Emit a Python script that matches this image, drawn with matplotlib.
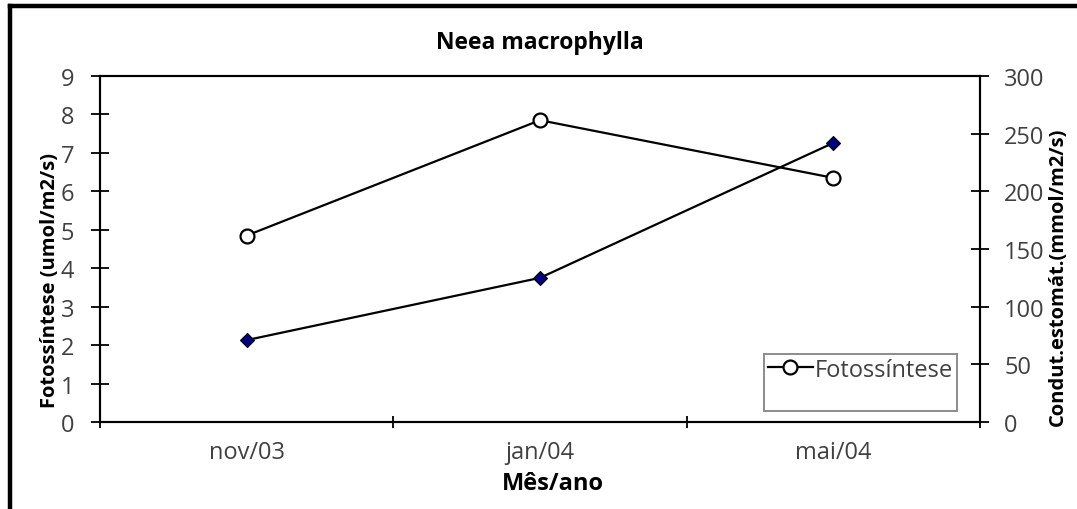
import matplotlib
matplotlib.use("Agg")
import matplotlib.pyplot as plt
from matplotlib.lines import Line2D

# Dados: fotossíntese (eixo esquerdo) e condutância estomática (eixo direito)
meses = ["nov/03", "jan/04", "mai/04"]
fotossintese = [4.85, 7.85, 6.35]        # umol/m2/s
condutancia = [71, 125, 242]             # mmol/m2/s

left_ticks = list(range(0, 10))
right_ticks = list(range(0, 301, 50))

FONT = ["Open Sans", "DejaVu Sans"]
TICK_COLOR = "#404040"
TICK_SIZE = 17
plt.rcParams["font.family"] = FONT

W, H = 1077, 510
fig = plt.figure(figsize=(W / 100, H / 100), dpi=100)
fig.patch.set_facecolor("white")

# moldura grossa do gráfico (esquerda e topo)
fig.add_artist(Line2D([10 / W, 10 / W], [0, 1 - 7 / H], transform=fig.transFigure,
                      color="black", linewidth=3.2, solid_capstyle="projecting"))
fig.add_artist(Line2D([10 / W, 1], [1 - 7 / H, 1 - 7 / H], transform=fig.transFigure,
                      color="black", linewidth=3.2, solid_capstyle="projecting"))

ax = fig.add_axes([100 / W, 1 - 423 / H, 880 / W, 346 / H])
ax2 = ax.twinx()

x = list(range(len(meses)))

ax2.plot(x, condutancia, color="black", linewidth=1.6, marker="D",
         markersize=7.5, markerfacecolor="#000080", markeredgecolor="black",
         markeredgewidth=0.8, zorder=3)
ln_foto, = ax.plot(x, fotossintese, color="black", linewidth=1.6, marker="o",
                   markersize=10, markerfacecolor="white", markeredgecolor="black",
                   markeredgewidth=1.6, zorder=4, label="Fotossíntese")
ax.set_zorder(ax2.get_zorder() + 1)
ax.patch.set_visible(False)

ax.set_xlim(-0.5, len(meses) - 0.5)
ax.set_ylim(0, 9)
ax2.set_ylim(0, 300)

# marcas entre categorias, rótulos no centro
ax.set_xticks([i - 0.5 for i in range(len(meses) + 1)])
ax.set_xticklabels([])
ax.set_xticks(x, minor=True)
ax.set_xticklabels(meses, minor=True)
ax.tick_params(axis="x", which="major", direction="inout", length=9, width=1.3)
ax.tick_params(axis="x", which="minor", length=0, pad=13,
               labelsize=TICK_SIZE, labelcolor=TICK_COLOR)

ax.set_yticks(left_ticks)
ax.tick_params(axis="y", direction="inout", length=13, width=1.3, pad=12,
               labelsize=TICK_SIZE, labelcolor=TICK_COLOR)
ax2.set_yticks(right_ticks)
ax2.tick_params(axis="y", direction="inout", length=13, width=1.3, pad=11,
                labelsize=TICK_SIZE, labelcolor=TICK_COLOR)

for a in (ax, ax2):
    for sp in a.spines.values():
        sp.set_linewidth(1.5)
        sp.set_color("black")

fig.text(540 / W, 1 - 43 / H, "Neea macrophylla", ha="center", va="center",
         fontsize=16.5, fontweight="bold")
fig.text(553 / W, 1 - 484 / H, "Mês/ano", ha="center", va="center",
         fontsize=TICK_SIZE, fontweight="bold")
fig.text(50 / W, 1 - 281 / H, "Fotossíntese (umol/m2/s)", ha="center",
         va="center", rotation=90, fontsize=14.5, fontweight="bold")
fig.text(1058 / W, 1 - 277 / H, "Condut.estomát.(mmol/m2/s)", ha="center",
         va="center", rotation=90, fontsize=14.5, fontweight="bold")

blank = Line2D([], [], linestyle="none")
leg = ax.legend([ln_foto, blank], ["Fotossíntese", " "], loc="upper right",
                bbox_to_anchor=(957 / W, 1 - 355 / H), bbox_transform=fig.transFigure,
                fontsize=TICK_SIZE, frameon=True, fancybox=False, borderpad=0.15,
                handlelength=1.9, handletextpad=0.1, labelspacing=0.1,
                borderaxespad=0)
leg.get_frame().set_edgecolor("#707070")
leg.get_frame().set_linewidth(1.4)
for t in leg.get_texts():
    t.set_color(TICK_COLOR)

fig.savefig("out.png", dpi=100, facecolor="white")
